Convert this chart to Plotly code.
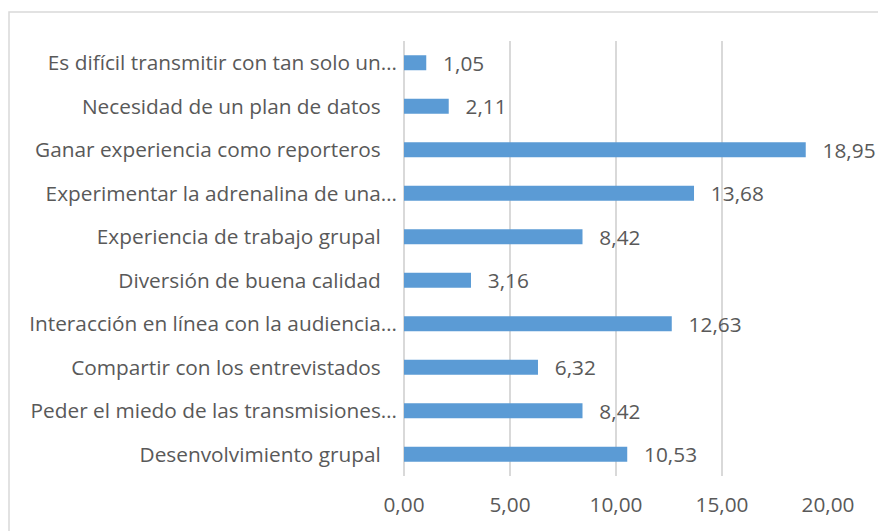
import plotly.graph_objects as go

categories = [
    "Es difícil transmitir con tan solo un…",
    "Necesidad de un plan de datos",
    "Ganar experiencia como reporteros",
    "Experimentar la adrenalina de una…",
    "Experiencia de trabajo grupal",
    "Diversión de buena calidad",
    "Interacción en línea con la audiencia…",
    "Compartir con los entrevistados",
    "Peder el miedo de las transmisiones…",
    "Desenvolvimiento grupal",
]
values = [1.05, 2.11, 18.95, 13.68, 8.42, 3.16, 12.63, 6.32, 8.42, 10.53]
x_ticks = [0, 5, 10, 15, 20]

labels = [c if c.endswith("…") else c + "\u00a0\u00a0\u00a0" for c in categories]

TXT = "#595959"
GRID = "#D9D9D9"
FONT = "Open Sans"
FS = 20.8

W, H = 878, 531
L, T = 404, 41
PW, PH = 424, 435

fig = go.Figure(
    go.Bar(
        x=values,
        y=labels,
        orientation="h",
        marker=dict(color="#5B9BD5", line=dict(width=0)),
        texttemplate="\u2002\u2009%{x:.2f}",
        textposition="outside",
        textfont=dict(family=FONT, size=FS, color=TXT),
        constraintext="none",
        cliponaxis=False,
        hoverinfo="skip",
    )
)

fig.update_layout(
    width=W,
    height=H,
    margin=dict(l=L, r=W - L - PW, t=T, b=H - T - PH, autoexpand=False),
    paper_bgcolor="white",
    plot_bgcolor="white",
    separators=",.",
    bargap=0.655,
    showlegend=False,
    font=dict(family=FONT, size=FS, color=TXT),
    xaxis=dict(
        range=[0, 20],
        tickvals=x_ticks,
        tickformat=".2f",
        showgrid=True,
        gridcolor=GRID,
        gridwidth=1.5,
        zeroline=True,
        zerolinecolor=GRID,
        zerolinewidth=1.5,
        showline=False,
        ticks="",
        ticklabelstandoff=14,
        tickfont=dict(family=FONT, size=FS, color=TXT),
        fixedrange=True,
        automargin=False,
    ),
    yaxis=dict(
        autorange="reversed",
        type="category",
        showgrid=False,
        showline=False,
        ticks="",
        ticklabelstandoff=6,
        tickfont=dict(family=FONT, size=FS, color=TXT),
        fixedrange=True,
        automargin=False,
    ),
    shapes=[
        dict(
            type="rect",
            xref="paper",
            yref="paper",
            x0=(9 - L) / PW,
            x1=1.3,
            y0=-0.3,
            y1=1 + (T - 12) / PH,
            line=dict(color=GRID, width=1.5),
            fillcolor="rgba(0,0,0,0)",
            layer="below",
        )
    ],
)

# remove the browser's default 8px body margin so the figure fills the window
fig.write_html(
    "out.html",
    config={"displayModeBar": False},
    post_script="document.body.style.margin='0';document.body.style.overflow='hidden';",
)
